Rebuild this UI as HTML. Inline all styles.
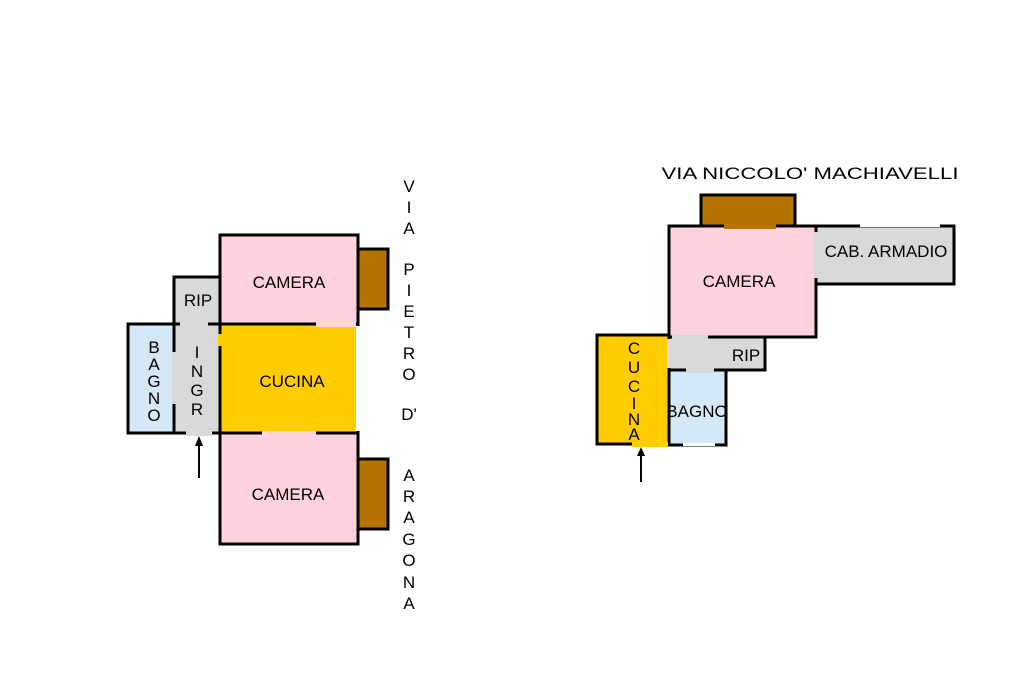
<!DOCTYPE html>
<html><head><style>body{margin:0;background:#fff}svg{display:block}text{font-family:"Liberation Sans",sans-serif;font-size:17px;fill:#000}</style></head>
<body>
<svg width="1024" height="682" viewBox="0 0 1024 682">
<g stroke="#000" stroke-width="3">
<rect x="358" y="249" width="30" height="60" fill="#B57400"/>
<rect x="358" y="459" width="30" height="70" fill="#B57400"/>
<rect x="174" y="277" width="46" height="47" fill="#D9D9D9"/>
<rect x="128" y="324" width="46" height="109" fill="#D5E8F8"/>
<rect x="174" y="324" width="46" height="109" fill="#D9D9D9"/>
<rect x="220" y="235" width="138" height="89" fill="#FFD2DC"/>
<rect x="220" y="324" width="138" height="109" fill="#FFCC00"/>
<rect x="220" y="433" width="138" height="111" fill="#FFD2DC"/>
<rect x="701" y="195" width="94" height="31" fill="#B57400"/>
<rect x="816" y="226" width="138" height="58" fill="#D9D9D9"/>
<rect x="669" y="226" width="147" height="111" fill="#FFD2DC"/>
<rect x="597" y="335" width="72" height="109" fill="#FFCC00"/>
<rect x="669" y="337" width="96" height="33" fill="#D9D9D9"/>
<rect x="669" y="370" width="57" height="75" fill="#D5E8F8"/>
</g>
<g stroke="none">
<rect x="360" y="268" width="3" height="22" fill="#B57400"/>
<rect x="360" y="478" width="3" height="32" fill="#B57400"/>
<rect x="180" y="322" width="28" height="5" fill="#D9D9D9"/>
<rect x="172" y="352" width="5" height="52" fill="#D9D9D9"/>
<rect x="218" y="334" width="5" height="12" fill="#FFCC00"/>
<rect x="186" y="431" width="26" height="5" fill="#D9D9D9"/>
<rect x="316" y="322" width="40" height="5" fill="#FFD2DC"/>
<rect x="262" y="431" width="54" height="5" fill="#FFD2DC"/>
<rect x="356" y="326" width="5" height="105" fill="#fff"/>
<rect x="724" y="224" width="52" height="5" fill="#B57400"/>
<rect x="814" y="232" width="5" height="46" fill="#D9D9D9"/>
<rect x="860" y="224" width="80" height="3" fill="#fff"/>
<rect x="672" y="335" width="36" height="5" fill="#D9D9D9"/>
<rect x="667" y="339" width="5" height="29" fill="#D9D9D9"/>
<rect x="686" y="368" width="28" height="5" fill="#D9D9D9"/>
<rect x="632" y="442" width="36" height="5" fill="#FFCC00"/>
<rect x="683" y="443" width="32" height="3" fill="#fff"/>
</g>
<g stroke="#000" stroke-width="2"><line x1="199" y1="440" x2="199" y2="478"/><line x1="641" y1="451" x2="641" y2="482"/></g>
<path d="M199 436 L195 446 L203 446Z M641 447 L637 456 L645 456Z"/>
<g text-anchor="middle">
<text x="289" y="288">CAMERA</text><text x="292" y="387">CUCINA</text><text x="288" y="500">CAMERA</text>
<text x="198" y="306">RIP</text>
<g font-size="16">
<text x="154" y="353">B</text><text x="154" y="370">A</text><text x="154" y="387">G</text><text x="154" y="404">N</text><text x="154" y="421">O</text>
<text x="197" y="358">I</text><text x="197" y="377">N</text><text x="197" y="396">G</text><text x="197" y="415">R</text>
<text x="634" y="354">C</text><text x="634" y="373">U</text><text x="634" y="392">C</text><text x="634" y="409">I</text><text x="634" y="425">N</text><text x="634" y="440">A</text>
</g>
<text x="739" y="287">CAMERA</text><text x="886" y="257">CAB. ARMADIO</text><text x="746" y="361">RIP</text>
<text x="697" y="417" font-size="14" fill="#333">BAGNO</text>
<text x="810" y="179" font-size="22" textLength="297" lengthAdjust="spacingAndGlyphs">VIA NICCOLO' MACHIAVELLI</text>
<g font-size="20">
<text x="409" y="192">V</text><text x="409" y="213">I</text><text x="409" y="234">A</text>
<text x="409" y="275">P</text><text x="409" y="296">I</text><text x="409" y="317">E</text><text x="409" y="338">T</text><text x="409" y="359">R</text><text x="409" y="380">O</text>
<text x="409" y="420">D'</text>
<text x="409" y="481">A</text><text x="409" y="502">R</text><text x="409" y="523">A</text><text x="409" y="545">G</text><text x="409" y="566">O</text><text x="409" y="588">N</text><text x="409" y="609">A</text>
</g>
</g>
</svg>
</body></html>
